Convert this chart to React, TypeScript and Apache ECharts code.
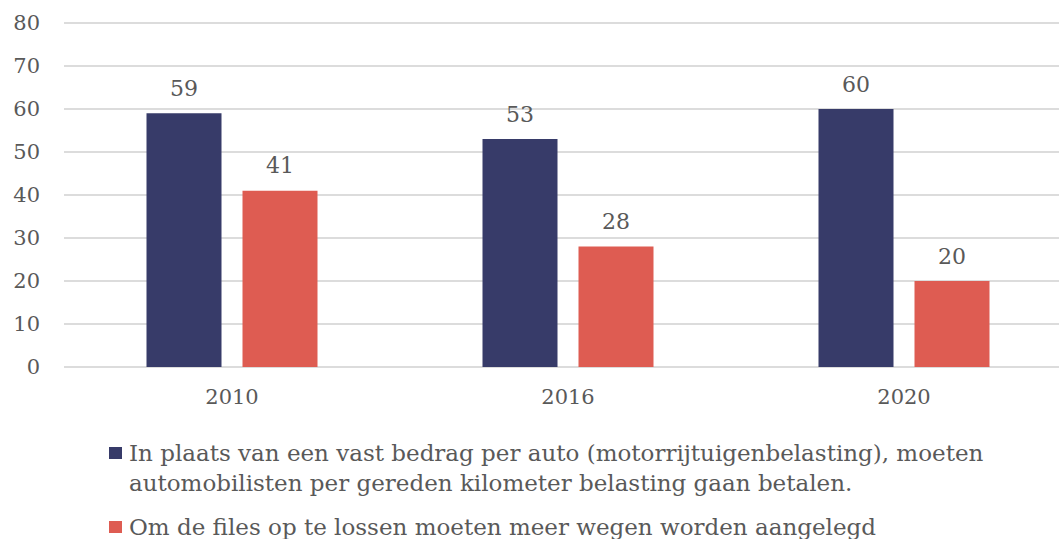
import React, { useEffect, useRef } from "react";
import * as echarts from "echarts";

const categories = ["2010", "2016", "2020"];
const seriesNames = [
  "In plaats van een vast bedrag per auto (motorrijtuigenbelasting), moeten\nautomobilisten per gereden kilometer belasting gaan betalen.",
  "Om de files op te lossen moeten meer wegen worden aangelegd",
];
const kilometerValues = [59, 53, 60];
const wegenValues = [41, 28, 20];

const FONT = "DejaVu Serif";
const TEXT = "#595959";

export default function App() {
  const ref = useRef<HTMLDivElement>(null);
  useEffect(() => {
    const chart = echarts.init(ref.current!, null, { renderer: "svg" });
    const legendText = {
      color: TEXT,
      fontFamily: FONT,
      fontSize: 23,
      lineHeight: 30,
      padding: [0, 0, 0, 2],
    };
    chart.setOption({
      animation: false,
      textStyle: { fontFamily: FONT, color: TEXT },
      grid: {
        left: 64,
        top: 23,
        width: 1008,
        height: 344,
        containLabel: false,
        outerBoundsMode: "none",
      },
      xAxis: {
        type: "category",
        data: categories,
        axisLine: { show: false },
        axisTick: { show: false },
        axisLabel: { color: TEXT, fontFamily: FONT, fontSize: 21, margin: 19 },
      },
      yAxis: {
        type: "value",
        min: 0,
        max: 80,
        interval: 10,
        axisLine: { show: false },
        axisTick: { show: false },
        splitLine: { lineStyle: { color: "#dcdcdc", width: 2 } },
        axisLabel: { color: TEXT, fontFamily: FONT, fontSize: 21, margin: 24 },
      },
      legend: [
        {
          data: [seriesNames[0]],
          left: 109,
          top: 408,
          padding: 0,
          icon: "rect",
          itemWidth: 13,
          itemHeight: 12,
          formatter: (name: string) => " \n" + name,
          textStyle: legendText,
        },
        {
          data: [seriesNames[1]],
          left: 109,
          top: 512,
          padding: 0,
          icon: "rect",
          itemWidth: 13,
          itemHeight: 12,
          textStyle: legendText,
        },
      ],
      series: [
        {
          name: seriesNames[0],
          type: "bar",
          data: kilometerValues,
          barWidth: 75,
          barGap: "28%",
          itemStyle: { color: "#373B69" },
          label: {
            show: true,
            position: "top",
            distance: 14,
            color: TEXT,
            fontFamily: FONT,
            fontSize: 22,
          },
        },
        {
          name: seriesNames[1],
          type: "bar",
          data: wegenValues,
          barWidth: 75,
          itemStyle: { color: "#DE5C52" },
          label: {
            show: true,
            position: "top",
            distance: 14,
            color: TEXT,
            fontFamily: FONT,
            fontSize: 22,
          },
        },
      ],
    });
    return () => chart.dispose();
  }, []);
  return (
    <div
      ref={ref}
      style={{ position: "absolute", left: 0, top: 0, width: 1059, height: 539 }}
    />
  );
}
